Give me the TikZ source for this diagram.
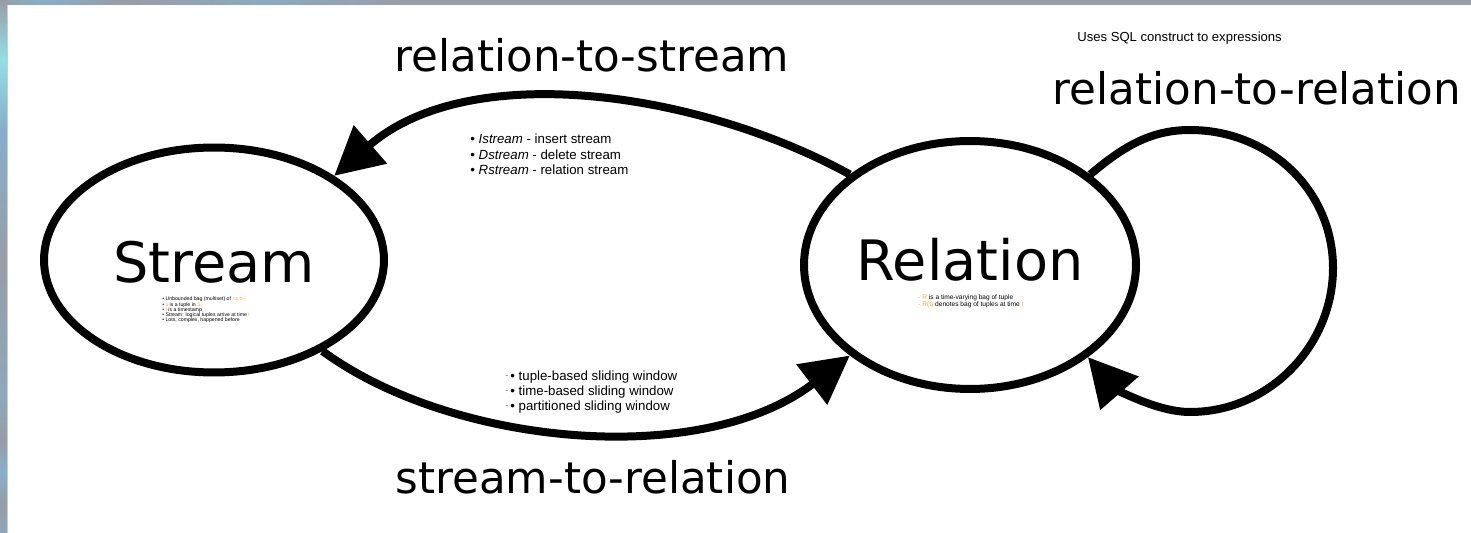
\documentclass[tikz,border=0pt]{standalone}
\usepackage{fontspec}
\setmainfont{Liberation Sans}
\newfontfamily\bigfont{DejaVu Sans}
\usetikzlibrary{arrows.meta,shapes.geometric}
\definecolor{hint}{HTML}{F2A43A}
\definecolor{fgray}{HTML}{979EA6}
\definecolor{fblue}{HTML}{86AECB}
\definecolor{fcyan}{HTML}{93DEE7}

\begin{document}
\begin{tikzpicture}[x=0.02cm,y=-0.02cm,
  state/.style={draw, ellipse, line width=0.16cm, inner sep=0pt, text depth=0pt,
    font=\bigfont\fontsize{31.7pt}{38pt}\selectfont},
  flow/.style={line width=0.16cm, -{Triangle[length=0.96cm, width=0.98cm]}},
  kind/.style={font=\bigfont\fontsize{24.8pt}{30pt}\selectfont, inner sep=0pt, anchor=base},
  item/.style={font=\fontsize{7.55pt}{8.7pt}\selectfont, inner sep=0pt, anchor=base west},
  note/.style={font=\fontsize{2.95pt}{3pt}\selectfont, inner sep=0pt, anchor=base west},
  remark/.style={font=\fontsize{3.75pt}{4pt}\selectfont, inner sep=0pt, anchor=base west}]

\useasboundingbox (0,0) rectangle (1471,533);
\fill[white] (0,0) rectangle (1471,533);

% window frame along the top and left edges
\shade[left color=fgray, right color=fblue] (0,0) rectangle (40,5);
\shade[left color=fblue, right color=fgray] (40,0) rectangle (120,5);
\shade[left color=fgray, right color=fblue!70!fgray] (120,0) rectangle (260,5);
\shade[left color=fblue!70!fgray, right color=fgray] (260,0) rectangle (420,5);
\fill[fgray] (420,0) rectangle (1471,5);
\shade[top color=fgray, bottom color=fcyan] (0,0) rectangle (7,60);
\shade[top color=fcyan, bottom color=fblue] (0,60) rectangle (7,130);
\shade[top color=fblue, bottom color=fgray] (0,130) rectangle (7,260);
\shade[top color=fgray, bottom color=fblue!60!fgray] (0,260) rectangle (7,400);
\shade[top color=fblue!60!fgray, bottom color=fgray] (0,400) rectangle (7,440);
\shade[top color=fgray, bottom color=fblue] (0,440) rectangle (7,470);
\shade[top color=fblue, bottom color=fgray] (0,470) rectangle (7,505);
\shade[top color=fgray, bottom color=fblue!50!fgray] (0,505) rectangle (7,533);
\draw[black!20, line width=0.02cm] (7.5,5) -- (7.5,533);

% the two states
\node[state, minimum width=6.8cm, minimum height=4.5cm, text height=0.92cm] (str) at (214,260) {Stream};
\node[state, minimum width=6.64cm, minimum height=4.96cm, text height=0.64cm] (rel) at (970,265) {Relation};

% operator classes
\draw[flow] (rel.143) .. controls (700,92) and (470,58) .. (str.35);
\draw[flow] (str.-40) .. controls (450,445) and (700,470) .. (rel.-143);
\draw[flow] (rel.37) .. controls (1123,147) and (1150,130) .. (1190,130)
  .. controls (1269,130) and (1333,190) .. (1333,268)
  .. controls (1333,346) and (1269,412) .. (1190,412)
  .. controls (1155,412) and (1114,387) .. (rel.-38);

\node[kind] (r2s) at (592,72) {relation-to-stream};
\node[kind] (r2r) at (1257,105) {relation-to-relation};
\node[kind] (s2r) at (593,494) {stream-to-relation};

\node[font=\fontsize{7.45pt}{8.5pt}\selectfont, inner sep=0pt, anchor=base west] (sql) at (1077,42)
  {Uses SQL construct to expressions};

% relation-to-stream operators
\node[item] (istr) at (470,144) {• \textit{Istream} - insert stream};
\node[item] (dstr) at (470,159.3) {• \textit{Dstream} - delete stream};
\node[item] (rstr) at (470,174.6) {• \textit{Rstream} - relation stream};

% stream-to-relation windows
\newcommand{\mk}{{\color{black!55}\raisebox{0.35ex}{\fontsize{5pt}{5pt}\selectfont -}}\hspace{1.2pt}}
\node[item] (tupw) at (505,381) {\mk• tuple-based sliding window};
\node[item] (timw) at (505,396) {\mk• time-based sliding window};
\node[item] (parw) at (505,411) {\mk• partitioned sliding window};

% definitions inside the states
\node[note] (sd1) at (162,301) {• Unbounded bag (multiset) of \textcolor{hint}{<s,t>}};
\node[note] (sd2) at (162,306.2) {• \textcolor{hint}{s} is a tuple in \textcolor{hint}{S}};
\node[note] (sd3) at (162,311.3) {• \textcolor{hint}{t} is a timestamp};
\node[note] (sd4) at (162,316.5) {• Stream: logical tuples arrive at time \textcolor{hint}{t}};
\node[note] (sd5) at (162,321.6) {• Lots, complex, happened before};

\node[remark] (rd1) at (918,300) {\textcolor{hint}{- R} is a time-varying bag of tuple};
\node[remark] (rd2) at (918,307) {\textcolor{hint}{- R(t)} denotes bag of tuples at time \textcolor{hint}{t}};
\end{tikzpicture}
\end{document}
